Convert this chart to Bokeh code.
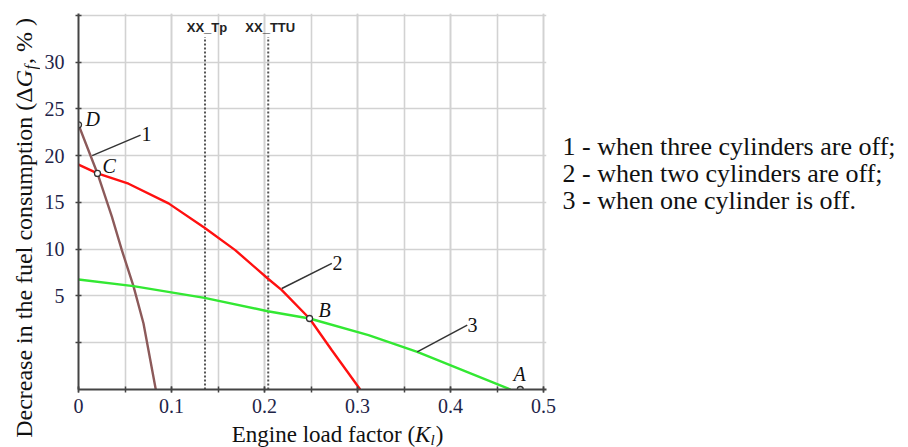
import math
from bokeh.plotting import figure
from bokeh.layouts import row, column
from bokeh.models import (Label, FixedTicker, SingleIntervalTicker, CustomJSTickFormatter, Range1d)
from bokeh.embed import file_html
from bokeh.resources import INLINE

# ---------------- data ----------------
curve1_x = [0.0, 0.0204, 0.0358, 0.0466, 0.0591, 0.0699, 0.0831]
curve1_y = [23.3, 18.1, 13.5, 9.9, 6.05, 2.06, -5.0]
curve2_x = [0.0, 0.0204, 0.0538, 0.0968, 0.1355, 0.1685, 0.2035, 0.2186, 0.2484, 0.2724, 0.3029]
curve2_y = [19.05, 18.1, 17.0, 14.9, 12.3, 9.9, 6.87, 5.62, 2.59, -0.8, -5.0]
curve3_x = [0.0, 0.0591, 0.1355, 0.2035, 0.2484, 0.3118, 0.3642, 0.4645]
curve3_y = [6.76, 6.05, 4.8, 3.37, 2.59, 0.81, -0.98, -5.0]

point_names = ["D", "C", "B", "A"]
point_x = [0.0, 0.0204, 0.2484, 0.475]
point_y = [23.3, 18.1, 2.59, -5.0]

idle_names = ["XX_Tp", "XX_TTU"]
idle_x = [0.136, 0.204]
idle_top = 32.7

leader_names = ["1", "2", "3"]
leader_x0 = [0.0147, 0.2186, 0.3642]
leader_y0 = [20.0, 5.8, -0.98]
leader_x1 = [0.0667, 0.2724, 0.418]
leader_y1 = [22.2, 8.48, 1.88]

y_ticks = [0, 5, 10, 15, 20, 25, 30, 35]
y_labelled = [5, 10, 15, 20, 25, 30]

legend_lines = ["1 - when three cylinders are off;",
                "2 - when two cylinders are off;",
                "3 - when one cylinder is off."]

x_title = ["Engine load factor (", "K", "l", ")"]
y_title = ["Decrease in the fuel consumption (\u0394", "G", "f", ", % )"]

# ---------------- layout constants (pixels) ----------------
W, H = 908, 447
STRIP_L = 40                   # left strip holding the y title
L, R, T, B = 78, 546, 13, 389  # plot frame in page pixels
PAD_R = 14                     # room for the overhanging "0.5" tick label
MAIN_H = 421                   # main figure height; x-title strip below it
X0, X1 = 0.0, 0.5032
Y0, Y1 = -5.0, 35.2
xs = (R - L) / (X1 - X0)
ys = (B - T) / (Y1 - Y0)
MID = 0.34                     # Label anchors at text middle: baseline offset in em

def dx(px):
    return X0 + (px - L) / xs

def dy(py):
    return Y0 + (B - py) / ys

SERIF = "Liberation Serif"
SANS = "Liberation Sans"

# ---------------- main plot ----------------
p = figure(width=R + PAD_R - STRIP_L, height=MAIN_H, output_backend="svg",
           toolbar_location=None, title=None,
           x_range=Range1d(X0, X1), y_range=Range1d(Y0, Y1),
           min_border_left=L - STRIP_L, min_border_right=PAD_R,
           min_border_top=T, min_border_bottom=MAIN_H - B)
p.outline_line_color = None
p.background_fill_color = "white"
p.border_fill_color = "white"

p.xaxis.ticker = SingleIntervalTicker(interval=0.1, num_minor_ticks=2)
p.xaxis.formatter = CustomJSTickFormatter(code="return String(Math.round(tick*10)/10);")
p.yaxis.ticker = FixedTicker(ticks=y_ticks, minor_ticks=[])
p.yaxis.formatter = CustomJSTickFormatter(
    args=dict(lab=y_labelled),
    code="return lab.indexOf(Math.round(tick)) >= 0 ? String(Math.round(tick)) : '';")
for ax in (p.xaxis, p.yaxis):
    ax.axis_line_color = "#444444"
    ax.axis_line_width = 2
    ax.major_tick_line_color = "#444444"
    ax.major_tick_line_width = 1.5
    ax.major_tick_in = 3
    ax.major_tick_out = 3
    ax.minor_tick_line_color = "#444444"
    ax.minor_tick_line_width = 1.5
    ax.minor_tick_in = 3
    ax.minor_tick_out = 3
    ax.major_label_text_font = SERIF
    ax.major_label_text_font_size = "20px"
    ax.major_label_text_color = "#1e2448"
p.xaxis.major_label_standoff = 6
p.yaxis.major_label_standoff = 11

p.xgrid.grid_line_color = "#d2d2d2"
p.xgrid.grid_line_width = 1.6
p.xgrid.minor_grid_line_color = "#d2d2d2"
p.xgrid.minor_grid_line_width = 1.6
p.ygrid.grid_line_color = "#d2d2d2"
p.ygrid.grid_line_width = 1.6

def plab(px, base_py, text, size, font=SERIF, style="normal", align="left", color="#111111"):
    # px, base_py: page pixels of the text start and its baseline
    p.add_layout(Label(x=dx(px), y=dy(base_py - MID * size), text=text, text_font=font,
                       text_font_style=style, text_font_size=f"{size}px", text_color=color,
                       text_align=align, text_baseline="middle"))

for xv, nm in zip(idle_x, idle_names):
    p.line([xv, xv], [Y0, idle_top], line_color="#555555", line_width=2, line_dash="2 2")
    plab(L + (xv - X0) * xs + 2, 31, nm, 13, SANS, "bold", "center", "#222222")

p.line(curve1_x, curve1_y, line_color="#8c5a5a", line_width=2.4)
p.line(curve2_x, curve2_y, line_color="#ff1010", line_width=2.4)
p.line(curve3_x, curve3_y, line_color="#33e833", line_width=2.4)

p.segment(leader_x0, leader_y0, leader_x1, leader_y1, line_color="#333333", line_width=1.5)
leader_label_px = [(141, 140), (332, 269), (467, 331)]
for nm, (lx, ly) in zip(leader_names, leader_label_px):
    plab(lx, ly, nm, 20)

p.scatter(point_x, point_y, size=6, marker="circle", line_color="#333333",
          fill_color="white", line_width=1.3)
point_label_px = [(85, 125), (102, 172), (318, 316), (513, 380)]
for nm, (lx, ly) in zip(point_names, point_label_px):
    plab(lx, ly, nm, 20, style="italic")

# ---------------- text strips (pixel-like ranges, y downwards) ----------------
def strip(w, h):
    f = figure(width=w, height=h, output_backend="svg", toolbar_location=None, title=None,
               x_range=Range1d(0, w), y_range=Range1d(h, 0),
               x_axis_location=None, y_axis_location=None,
               min_border_left=0, min_border_right=0, min_border_top=0, min_border_bottom=0)
    f.outline_line_color = None
    f.grid.visible = False
    f.background_fill_color = "white"
    f.border_fill_color = "white"
    return f

def put(f, x, y, text, size, style="normal", angle=0.0, align="left"):
    # (x, y) = start/end point on the baseline; shift to the text middle
    ox = -MID * size * math.sin(angle)
    oy = -MID * size * math.cos(angle)
    f.add_layout(Label(x=x + ox, y=y + oy, text=text, text_font=SERIF, text_font_style=style,
                       text_font_size=f"{size}px", text_color="#111111", angle=angle,
                       text_align=align, text_baseline="middle"))

# left strip: rotated y title (pieces chained at the "(\u0394" | "G" joint)
left = strip(STRIP_L, H)
rot = math.pi / 2
put(left, 31.7, 86.7, y_title[0], 24, angle=rot, align="right")
put(left, 31.7, 86.7, y_title[1], 24, "italic", rot)
put(left, 35.7, 69.0, y_title[2], 16, "italic", rot)
put(left, 31.7, 63.5, y_title[3], 24, angle=rot)

# bottom strip: x title (pieces chained at the "(" | "K" joint)
bottom = strip(R + PAD_R - STRIP_L, H - MAIN_H)
base = 441.5 - MAIN_H
put(bottom, 414 - STRIP_L, base, x_title[0], 23, align="right")
put(bottom, 414 - STRIP_L, base, x_title[1], 23, "italic")
put(bottom, 431 - STRIP_L, base + 3.5, x_title[2], 15, "italic")
put(bottom, 437 - STRIP_L, base, x_title[3], 23)

# right strip: explanation of the curve numbers
side = strip(W - R - PAD_R, H)
for i, t in enumerate(legend_lines):
    put(side, 562 - R - PAD_R, 155 + i * 26.7, t, 26)

page = row(left, column(p, bottom), side)
open("out.html", "w").write(file_html(page, INLINE))
